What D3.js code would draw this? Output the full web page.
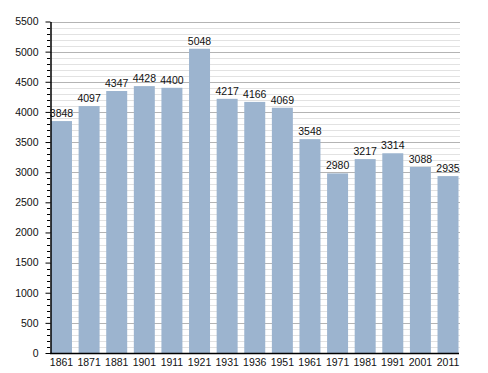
<!DOCTYPE html>
<html><head><meta charset="utf-8">
<script src="https://cdn.jsdelivr.net/npm/d3@7"></script>
<style>body{margin:0;background:#fff}svg{display:block}text{font-family:"Liberation Sans",Arial,sans-serif}</style>
</head><body>
<script>
const years = ["1861","1871","1881","1901","1911","1921","1931","1936","1951","1961","1971","1981","1991","2001","2011"];
const population = [3848,4097,4347,4428,4400,5048,4217,4166,4069,3548,2980,3217,3314,3088,2935];
const yMajorTicks = [0,500,1000,1500,2000,2500,3000,3500,4000,4500,5000,5500];

const W=488,H=373;
const svg=d3.select("body").append("svg").attr("width",W).attr("height",H);
const x=d3.scaleBand().domain(years).range([51,458.5]).paddingInner(0.24).paddingOuter(0);
const y=d3.scaleLinear().domain([0,5500]).range([353,21.5]);
const gx0=50, gx1=460;

const minor=d3.range(0,5501,100).filter(v=>v%500!==0);
svg.append("g").selectAll("line").data(minor).join("line")
  .attr("x1",gx0).attr("x2",gx1).attr("y1",d=>Math.round(y(d))+0.5).attr("y2",d=>Math.round(y(d))+0.5)
  .attr("stroke","#e2e2e2").attr("stroke-width",1);
svg.append("g").selectAll("line").data(yMajorTicks.filter(v=>v>0)).join("line")
  .attr("x1",gx0).attr("x2",gx1).attr("y1",d=>Math.round(y(d))+0.5).attr("y2",d=>Math.round(y(d))+0.5)
  .attr("stroke","#b4b4b4").attr("stroke-width",1);

svg.append("g").selectAll("rect").data(population).join("rect")
  .attr("x",(d,i)=>x(years[i])).attr("width",x.bandwidth())
  .attr("y",d=>y(d)).attr("height",d=>y(0)-y(d)).attr("fill","#9cb4cf");

svg.append("g").selectAll("text").data(population).join("text")
  .attr("x",(d,i)=>x(years[i])+x.bandwidth()/2).attr("y",d=>y(d)-4)
  .attr("text-anchor","middle").attr("font-size",10.5).attr("fill","#111").text(d=>d);

// y axis minor ticks
svg.append("g").selectAll("line").data(minor).join("line")
  .attr("x1",47).attr("x2",50).attr("y1",d=>Math.round(y(d))+0.5).attr("y2",d=>Math.round(y(d))+0.5)
  .attr("stroke","#000");
const ya=svg.append("g").attr("transform","translate(50.5,0)")
  .call(d3.axisLeft(y).tickValues(yMajorTicks).tickSize(5).tickSizeOuter(0).tickPadding(7).tickFormat(d3.format("d")));
ya.select(".domain").attr("stroke","#000").attr("stroke-width",1.5);
ya.selectAll("text").attr("font-size",10.5).attr("fill","#111").attr("font-family","Liberation Sans, Arial, sans-serif");

const xa=svg.append("g").attr("transform","translate(0,353.5)")
  .call(d3.axisBottom(x).tickSize(0).tickPadding(5));
xa.select(".domain").attr("d","M50,0H459").attr("stroke","#000").attr("stroke-width",1.5);
xa.selectAll("text").attr("font-size",10.5).attr("fill","#111").attr("font-family","Liberation Sans, Arial, sans-serif");
</script>
</body></html>
